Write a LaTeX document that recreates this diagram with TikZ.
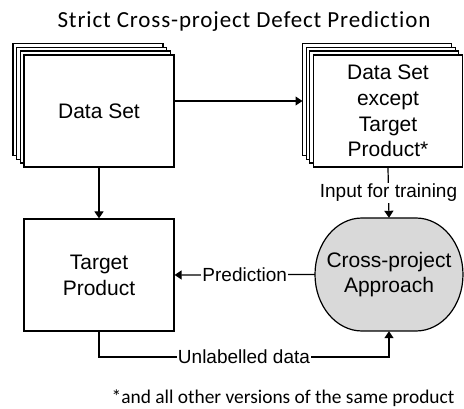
\documentclass[tikz,border=0pt]{standalone}
\usepackage{fontspec}
\setmainfont{Liberation Sans}
\newfontfamily\calibri[LetterSpace=3.7, Ligatures=NoCommon]{Carlito}
\newfontfamily\calibrinote{Carlito}
\usetikzlibrary{arrows.meta}
\begin{document}
\begin{tikzpicture}[x=1pt,y=-1pt,
  line/.style={line width=1.2pt},
  arr/.style={line, -{Triangle[length=7pt,width=9pt]}},
  box/.style={draw, line, fill=white, minimum width=150pt, minimum height=112pt,
    inner sep=0pt, align=center, font=\fontsize{21}{25.8}\selectfont},
  layer/.style={draw, line, fill=white},
  approachshape/.style={draw, line, fill=black!15},
  approach/.style={minimum width=148pt, minimum height=113pt, inner sep=0pt,
    align=center, font=\fontsize{21}{25}\selectfont},
  lab/.style={fill=white, inner sep=1pt, font=\fontsize{19}{22}\selectfont},
]
\useasboundingbox (0,0) rectangle (464,409);

% title
\node[anchor=base, font=\calibri\fontsize{23}{27}\selectfont] (title) at (244,27.3)
  {Strict Cross-project Defect Prediction};

% stacked sheets behind the two data set boxes
\foreach \k in {3,2,1} {
  \path[layer] (24-3.7*\k, 55-3.9*\k) rectangle ++(150,112);
  \path[layer] (313.5-3.7*\k, 55-3.9*\k) rectangle ++(149,112);
}

\node[box] (ds) at (99,111) {Data Set};
\node[box, minimum width=149pt] (dse) at (388,111)
  {Data Set\\except\\Target\\Product*};
\node[box] (tp) at (99,275) {Target\\Product};

% process shape with half-elliptic ends
\path[approachshape] (362,218) -- (416,218)
  arc[start angle=-90, end angle=90, x radius=47, y radius=56.5]
  -- (362,331)
  arc[start angle=90, end angle=270, x radius=47, y radius=56.5]
  -- cycle;
\node[approach] (ca) at (389,274.5) {Cross-project\\Approach};

% connectors
\coordinate (dsr) at (174,101);
\coordinate (dsel) at (302.5,101);
\draw[arr] (dsr) -- (dsel);
\draw[arr] (ds.south) -- (tp.north);
\draw[arr] (dse.south) -- node[lab, pos=0.5] {Input for training} (ca.north);
\draw[arr] (ca.west) -- node[lab] {Prediction} (tp.east);
\coordinate (u) at (99,357);
\draw[arr] (tp.south) -- (u) -| node[lab, pos=0.25] {Unlabelled data} (ca.south);

% footnote
\node[anchor=base, font=\calibrinote\fontsize{19.4}{23}\selectfont] (note) at (283,403)
  {*and all other versions of the same product};
\end{tikzpicture}
\end{document}
